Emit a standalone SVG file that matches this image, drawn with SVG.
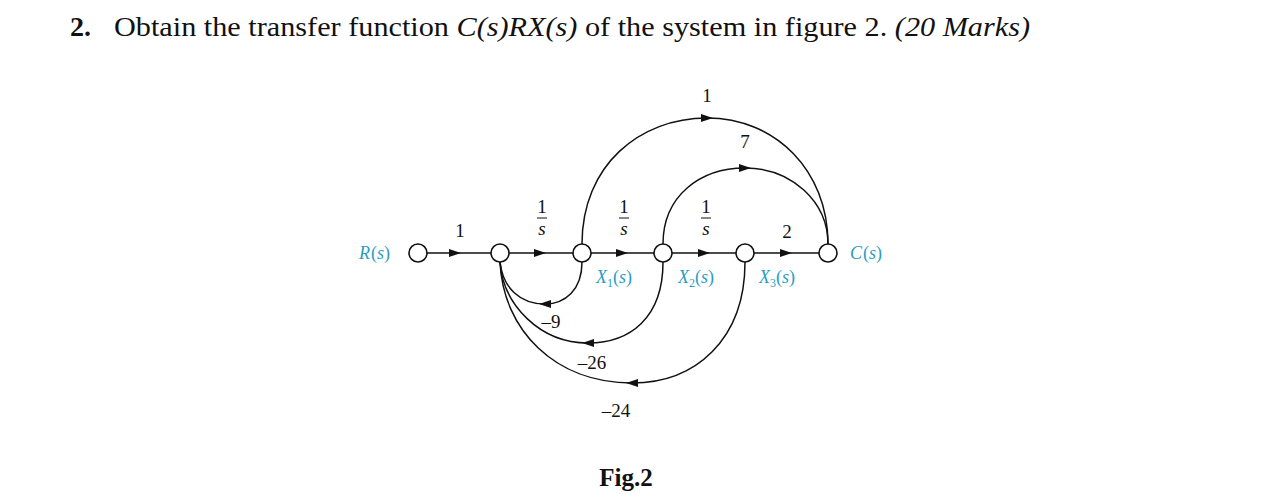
<svg xmlns="http://www.w3.org/2000/svg" width="1265" height="494" viewBox="0 0 1265 494">
<style>
.t{font-family:"Liberation Serif",serif;fill:#111}
.b{fill:none;stroke:#111;stroke-width:1.5}
.n{fill:#fff;stroke:#111;stroke-width:1.6}
.c{font-family:"Liberation Serif",serif;fill:#2a9cc4;font-size:18px}
</style>
<defs><marker id="a" viewBox="0 0 12 8" refX="6" refY="4" markerWidth="12" markerHeight="8" markerUnits="userSpaceOnUse" orient="auto"><path d="M0,0L12,4L0,8z" fill="#111"/></marker></defs>
<rect width="1265" height="494" fill="#fff"/>
<text class="t" x="70" y="36" font-size="28" font-weight="bold">2.</text>
<text class="t" x="114" y="36" font-size="28" textLength="916" lengthAdjust="spacingAndGlyphs">Obtain the transfer function <tspan font-style="italic">C(s)RX(s)</tspan> of the system in figure 2.  <tspan font-style="italic">(20 Marks)</tspan></text>
<g id="connectors">
<path class="b" d="M427,253H455" marker-end="url(#a)"/><path class="b" d="M455,253H491"/>
<path class="b" d="M509,253H540" marker-end="url(#a)"/><path class="b" d="M540,253H573"/>
<path class="b" d="M591,253H622" marker-end="url(#a)"/><path class="b" d="M622,253H654"/>
<path class="b" d="M672,253H704" marker-end="url(#a)"/><path class="b" d="M704,253H736"/>
<path class="b" d="M754,253H786" marker-end="url(#a)"/><path class="b" d="M786,253H819"/>
<path class="b" d="M582,244C582,165 640,118 707,118" marker-end="url(#a)"/><path class="b" d="M707,118C775,118 828,170 828,244"/>
<path class="b" d="M663,244C663,196 700,168 745,168" marker-end="url(#a)"/><path class="b" d="M745,168C792,168 828,202 828,244"/>
<path class="b" d="M582,262C582,290 565,304 545,304" marker-end="url(#a)"/><path class="b" d="M545,304C520,304 503,288 500,262"/>
<path class="b" d="M663,262C663,318 630,343 588,343" marker-end="url(#a)"/><path class="b" d="M588,343C540,343 503,305 500,262"/>
<path class="b" d="M745,262C745,340 695,383 632,383" marker-end="url(#a)"/><path class="b" d="M632,383C555,383 503,330 500,262"/>
</g>
<g id="R"><circle class="n" cx="418" cy="253" r="9"/><text class="c" x="359" y="259" font-style="italic">R</text><text class="c" x="371" y="259">(<tspan font-style="italic">s</tspan>)</text></g>
<g id="n1"><circle class="n" cx="500" cy="253" r="9"/></g>
<g id="X1"><circle class="n" cx="582" cy="253" r="9"/><text class="c" x="596" y="283"><tspan font-style="italic">X</tspan><tspan font-size="12" dy="4">1</tspan><tspan dy="-4">(</tspan><tspan font-style="italic">s</tspan>)</text></g>
<g id="X2"><circle class="n" cx="663" cy="253" r="9"/><text class="c" x="678" y="283"><tspan font-style="italic">X</tspan><tspan font-size="12" dy="4">2</tspan><tspan dy="-4">(</tspan><tspan font-style="italic">s</tspan>)</text></g>
<g id="X3"><circle class="n" cx="745" cy="253" r="9"/><text class="c" x="759" y="283"><tspan font-style="italic">X</tspan><tspan font-size="12" dy="4">3</tspan><tspan dy="-4">(</tspan><tspan font-style="italic">s</tspan>)</text></g>
<g id="C"><circle class="n" cx="828" cy="253" r="9"/><text class="c" x="850" y="259" font-style="italic">C</text><text class="c" x="863" y="259">(<tspan font-style="italic">s</tspan>)</text></g>
<g id="labels" class="t" font-size="19" text-anchor="middle">
<text x="460" y="237">1</text>
<text x="542" y="213">1</text><line x1="537" y1="218" x2="547" y2="218" stroke="#111"/><text x="542" y="235" font-style="italic">s</text>
<text x="624" y="213">1</text><line x1="619" y1="218" x2="629" y2="218" stroke="#111"/><text x="624" y="235" font-style="italic">s</text>
<text x="706" y="213">1</text><line x1="701" y1="218" x2="711" y2="218" stroke="#111"/><text x="706" y="235" font-style="italic">s</text>
<text x="787" y="238">2</text>
<text x="707" y="102">1</text>
<text x="745" y="148">7</text>
<text x="551" y="328">–9</text>
<text x="592" y="369">–26</text>
<text x="616" y="417">–24</text>
</g>
<text class="t" x="626" y="486" font-size="25" font-weight="bold" text-anchor="middle">Fig.2</text>
</svg>
